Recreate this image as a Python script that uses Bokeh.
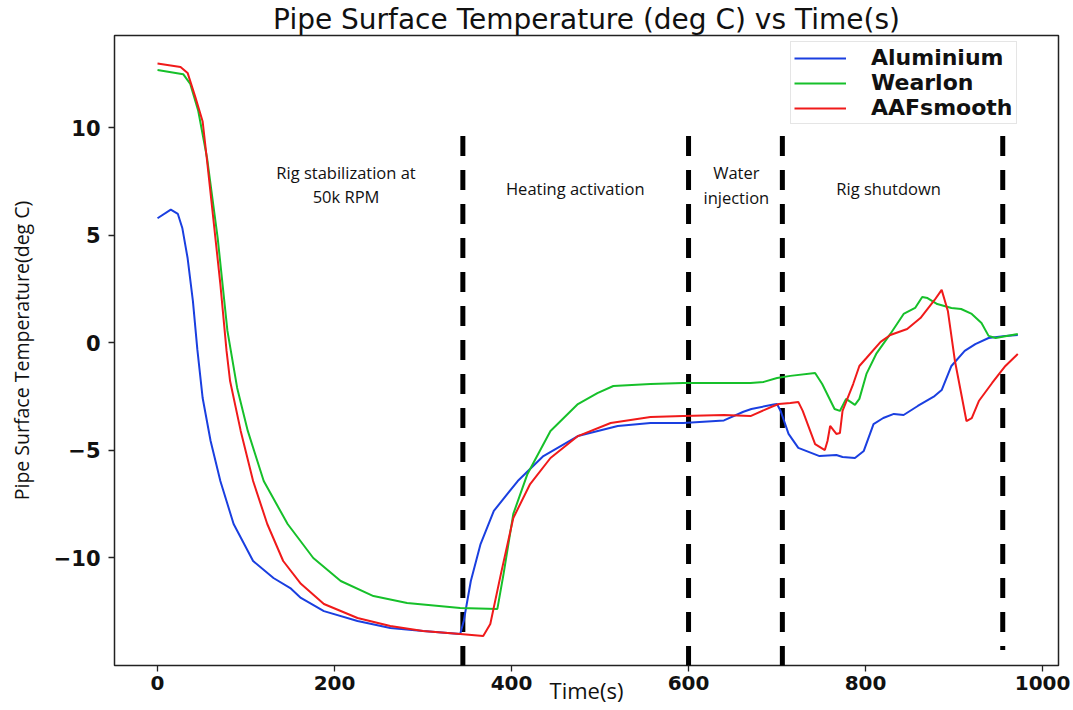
from bokeh.plotting import figure
from bokeh.models import Range1d, FixedTicker, Legend, LegendItem, ColumnDataSource, CustomJSTickFormatter
from bokeh.core.properties import value
from bokeh.embed import file_html
from bokeh.resources import INLINE

# ---------------- data ----------------
alu_t = [0, 15, 23, 28, 34, 40, 45, 51, 60, 71, 86, 108, 131, 150, 162, 188, 226, 263, 300, 342,
         346, 354, 365, 380, 407, 436, 475, 520, 557, 594, 640, 662, 671, 696, 700, 704, 713, 724,
         748, 767, 774, 788, 798, 809, 820, 832, 843, 859, 878, 886, 897, 912, 924, 939, 958, 972]
alu_y = [5.8, 6.2, 6.0, 5.35, 3.95, 1.95, -0.3, -2.56, -4.56, -6.42, -8.42, -10.14, -10.93, -11.4,
         -11.86, -12.47, -12.93, -13.26, -13.4, -13.53, -12.93, -11.07, -9.35, -7.81, -6.42, -5.26,
         -4.33, -3.86, -3.72, -3.72, -3.6, -3.2, -3.07, -2.86, -2.84, -3.16, -4.23, -4.88, -5.26,
         -5.21, -5.3, -5.35, -5.02, -3.77, -3.49, -3.3, -3.35, -2.93, -2.47, -2.19, -1.07, -0.37,
         -0.05, 0.23, 0.33, 0.37]

wear_t = [0, 29, 37, 46, 56, 68, 79, 90, 102, 120, 147, 176, 207, 244, 282, 342, 384, 391, 402, 418,
          444, 475, 497, 515, 557, 594, 670, 685, 700, 715, 743, 751, 765, 771, 778, 788, 793, 801,
          812, 828, 843, 856, 864, 870, 881, 897, 908, 920, 931, 939, 947, 972]
wear_y = [12.7, 12.5, 12.05, 10.8, 8.6, 4.88, 0.56, -2.09, -4.09, -6.42, -8.42, -10.0, -11.07,
          -11.77, -12.09, -12.33, -12.37, -10.74, -7.95, -6.09, -4.09, -2.84, -2.33, -2.0, -1.91,
          -1.86, -1.86, -1.81, -1.63, -1.53, -1.40, -1.91, -3.07, -3.16, -2.60, -2.88, -2.60, -1.44,
          -0.51, 0.42, 1.35, 1.63, 2.14, 2.09, 1.81, 1.63, 1.58, 1.35, 0.93, 0.33, 0.23, 0.42]

aaf_t = [0, 26, 34, 43, 51, 56, 63, 71, 78, 82, 94, 108, 124, 142, 162, 188, 226, 263, 300, 342, 368,
         376, 388, 402, 421, 444, 475, 512, 557, 594, 640, 670, 696, 702, 715, 724, 729, 743, 754,
         757, 760, 767, 771, 774, 786, 793, 801, 817, 828, 847, 862, 878, 886, 893, 901, 914, 920,
         928, 943, 958, 972]
aaf_y = [13.0, 12.84, 12.56, 11.4, 10.3, 8.47, 5.8, 2.74, -0.37, -1.77, -4.09, -6.42, -8.42, -10.14,
         -11.2, -12.14, -12.79, -13.16, -13.4, -13.53, -13.63, -13.07, -10.74, -8.14, -6.56, -5.35,
         -4.33, -3.72, -3.44, -3.40, -3.35, -3.40, -2.93, -2.84, -2.79, -2.74, -3.16, -4.70, -4.98,
         -4.56, -3.86, -4.23, -4.19, -3.16, -1.91, -1.07, -0.70, 0.05, 0.37, 0.65, 1.16, 2.0, 2.47,
         1.49, -0.84, -3.63, -3.49, -2.70, -1.86, -1.07, -0.51]

series_names = ["Aluminium", "Wearlon", "AAFsmooth"]
series_colors = ["#1a3fe0", "#16c02a", "#f01a1a"]

phase_bounds = [345, 600, 706, 955]
phase_top = [9.63, 9.63, 9.63, 9.63]
phase_bottom = [-15.6, -15.6, -15.6, -14.28]

phase_text = ["Rig stabilization at\n50k RPM", "Heating activation", "Water\ninjection", "Rig shutdown"]
phase_text_x = [213, 472, 654, 826]
phase_text_y = [7.37, 7.2, 7.35, 7.2]

x_ticks = [0, 200, 400, 600, 800, 1000]
y_ticks = [-10, -5, 0, 5, 10]

# ---------------- figure ----------------
p = figure(width=1073, height=710, output_backend="svg", toolbar_location=None,
           x_range=Range1d(-48.6, 1018), y_range=Range1d(-15.0, 14.3),
           min_border_left=114, min_border_right=15, min_border_top=35, min_border_bottom=45,
           title="Pipe Surface Temperature (deg C) vs Time(s)")
p.background_fill_color = "white"
p.border_fill_color = "white"
p.grid.visible = False
p.outline_line_color = "#222222"
p.outline_line_width = 1.5

p.title.align = "center"
p.title.text_font = "DejaVu Sans"
p.title.text_font_style = "normal"
p.title.text_font_size = "28px"
p.title.text_color = "#111111"
p.title.standoff = 0
p.title.offset = 0

for ax in (p.xaxis[0], p.yaxis[0]):
    ax.axis_line_color = None
    ax.major_tick_line_color = "#222222"
    ax.major_tick_line_width = 1.3
    ax.major_tick_out = 6
    ax.major_tick_in = 0
    ax.minor_tick_line_color = None
    ax.major_label_text_font = "DejaVu Sans"
    ax.major_label_text_font_style = "bold"
    ax.major_label_text_font_size = "20px"
    ax.major_label_text_color = "#111111"
    ax.axis_label_text_font = "Open Sans"
    ax.axis_label_text_font_style = "normal"
    ax.axis_label_text_color = "#111111"

p.xaxis.ticker = FixedTicker(ticks=x_ticks)
p.yaxis.ticker = FixedTicker(ticks=y_ticks)
p.yaxis.formatter = CustomJSTickFormatter(code="return tick < 0 ? '\\u2212' + Math.abs(tick) : String(tick);")
p.yaxis.major_label_text_font_size = "21px"
p.xaxis.major_label_standoff = 4
p.yaxis.major_label_standoff = 8
p.xaxis.axis_label = "Time(s)"
p.xaxis.axis_label_text_font_size = "22px"
p.xaxis.axis_label_standoff = -18
p.yaxis.axis_label = "Pipe Surface Temperature(deg C)"
p.yaxis.axis_label_text_font_size = "19.5px"
p.yaxis.axis_label_standoff = 16

# phase boundaries
p.segment(x0=phase_bounds, y0=phase_top, x1=phase_bounds, y1=phase_bottom,
          line_color="black", line_width=5, line_dash="20 14")

# series
renderers = []
for t, y, c in zip([alu_t, wear_t, aaf_t], [alu_y, wear_y, aaf_y], series_colors):
    r = p.line(t, y, line_color=c, line_width=2)
    renderers.append(r)

# phase annotations
src = ColumnDataSource(dict(x=phase_text_x, y=phase_text_y, text=phase_text))
p.text(x="x", y="y", text="text", source=src, text_font=value("Open Sans"), text_font_size="16.5px",
       text_align="center", text_baseline="middle", text_line_height=1.05, text_color="#111111")

legend = Legend(items=[LegendItem(label=n, renderers=[r]) for n, r in zip(series_names, renderers)],
                location=(676, 541))
legend.label_text_font = "DejaVu Sans"
legend.label_text_font_style = "bold"
legend.label_text_font_size = "22px"
legend.label_text_color = "#111111"
legend.glyph_width = 52
legend.glyph_height = 22
legend.label_height = 22
legend.label_standoff = 25
legend.spacing = 0
legend.padding = 3
legend.margin = 0
legend.border_line_color = "#cccccc"
legend.border_line_width = 1
legend.background_fill_alpha = 0.8
p.add_layout(legend)

open("out.html", "w").write(file_html(p, INLINE))
